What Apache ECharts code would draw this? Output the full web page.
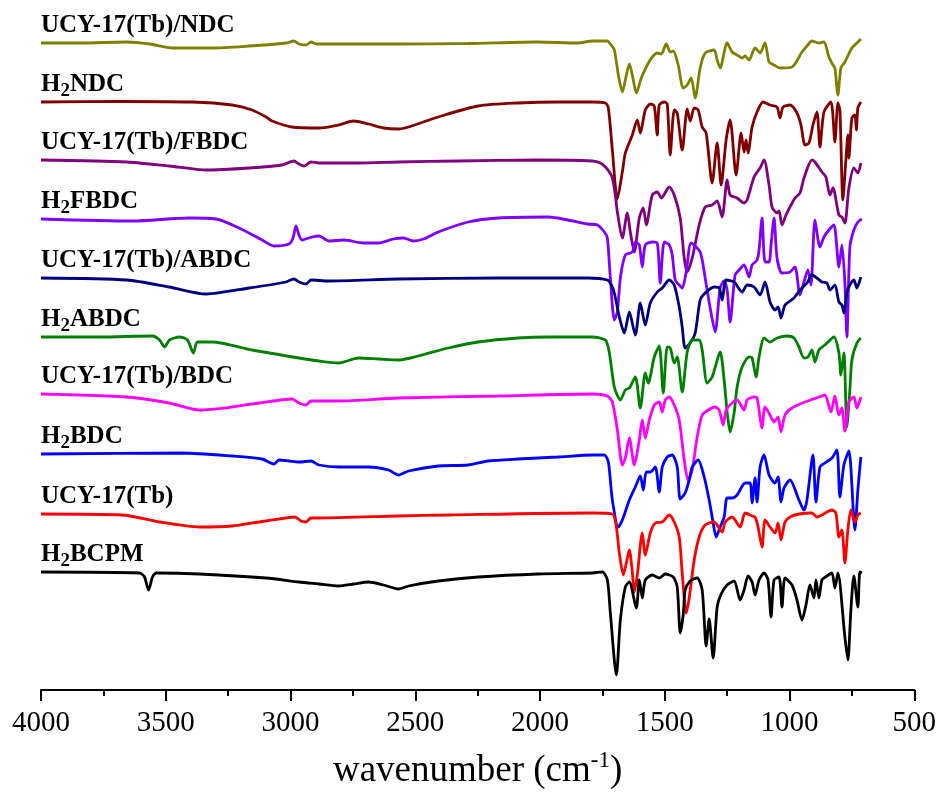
<!DOCTYPE html>
<html><head><meta charset="utf-8">
<script src="https://cdn.jsdelivr.net/npm/echarts@6/dist/echarts.min.js"></script>
<style>html,body{margin:0;padding:0;background:#fff}#c{width:939px;height:807px}</style>
</head><body><div id="c"></div>
<script>
// x axis ticks (wavenumber, cm-1)
const xTicks = [4000, 3500, 3000, 2500, 2000, 1500, 1000, 500];
const labels = ['UCY-17(Tb)/NDC', 'H2NDC', 'UCY-17(Tb)/FBDC', 'H2FBDC', 'UCY-17(Tb)/ABDC', 'H2ABDC', 'UCY-17(Tb)/BDC', 'H2BDC', 'UCY-17(Tb)', 'H2BCPM'];
const colors = ['#808000', '#800000', '#800080', '#8000FF', '#000080', '#008000', '#FF00FF', '#0000FF', '#FF0000', '#000000'];

// spectra: [wavenumber, transmittance (offset, a.u.)]
const ndcTb = [[4000,647],[3844,647],[3657,648],[3565,646],[3473,642],[3314,642],[3166,644],[3018,647],[2986,649],[2966,646],[2938,645],[2918,648],[2894,646],[2807,646],[2567,646],[2288,646.5],[2008,648],[1849,647],[1790,649],[1730,649],[1718,646],[1702,640],[1686,615],[1670,598],[1658,610],[1642,626],[1626,610],[1614,597],[1594,612],[1570,625],[1550,633],[1530,637],[1514,636],[1494,646],[1478,638],[1466,639],[1446,625],[1426,602],[1410,605],[1394,612],[1378,592],[1358,622],[1338,637],[1302,640],[1290,630],[1278,622],[1250,647],[1230,638],[1210,635],[1190,632],[1178,634],[1162,630],[1138,642],[1118,637],[1098,647],[1082,628],[1062,625],[1038,622],[990,623],[950,638],[930,644],[910,649],[882,647],[862,648],[842,633],[826,625],[818,622],[806,595],[794,622],[778,628],[750,642],[730,647],[714,651]];
const h2ndc = [[4000,588],[3685,588.5],[3393,588],[3234,585],[3154,580],[3098,573],[3074,569],[2994,563],[2886,562],[2807,565],[2747,569],[2687,566],[2627,562],[2567,561],[2527,563],[2408,573],[2248,584],[2088,587],[1929,588],[1790,588],[1738,587],[1726,582],[1710,540],[1690,491],[1670,518],[1658,537],[1630,555],[1610,570],[1598,557],[1578,580],[1558,586],[1542,584],[1530,555],[1522,585],[1502,588],[1490,586],[1478,535],[1462,580],[1450,577],[1430,540],[1410,581],[1398,569],[1382,582],[1366,580],[1350,563],[1334,557],[1310,507],[1290,547],[1274,505],[1254,550],[1238,570],[1214,515],[1194,557],[1182,538],[1174,550],[1166,537],[1150,563],[1130,578],[1106,588],[1078,585],[1050,583],[1038,572],[1026,583],[998,585],[970,577],[954,565],[938,545],[922,547],[906,565],[890,578],[878,543],[862,578],[834,588],[818,548],[806,587],[798,580],[786,490],[774,530],[766,555],[762,532],[750,572],[738,575],[732,560],[726,582],[714,588]];
const fbdcTb = [[4000,530],[3657,528],[3486,524],[3338,520],[3166,522],[3034,525],[2986,529],[2966,526],[2946,524],[2918,528],[2886,527],[2727,527],[2567,528],[2328,529],[2008,530],[1790,529],[1758,527],[1738,523],[1722,518],[1710,512],[1698,495],[1690,478],[1670,452],[1650,477],[1638,458],[1622,438],[1602,472],[1586,482],[1574,465],[1550,495],[1530,498],[1514,492],[1482,503],[1462,495],[1438,472],[1422,432],[1410,418],[1390,432],[1362,465],[1338,483],[1310,485],[1290,489],[1270,473],[1250,510],[1238,495],[1210,492],[1182,487],[1170,490],[1142,513],[1118,522],[1102,530],[1082,505],[1070,483],[1050,477],[1042,479],[1030,465],[1014,475],[978,492],[958,497],[942,512],[910,530],[898,528],[870,518],[854,513],[838,495],[826,502],[802,475],[790,473],[778,467],[762,502],[742,522],[726,517],[714,527]];
const h2fbdc = [[4000,471],[3633,469],[3405,472],[3298,471],[3206,462],[3114,450],[3066,444],[3006,446],[2990,452],[2978,464],[2966,455],[2954,450],[2914,453],[2886,454],[2847,449],[2787,450],[2707,447],[2647,447],[2587,451],[2547,452],[2507,449],[2467,451],[2408,458],[2288,468],[2168,472],[1969,473],[1810,466],[1770,465],[1742,458],[1730,452],[1718,412],[1702,370],[1690,378],[1678,412],[1658,435],[1630,438],[1618,448],[1602,445],[1590,423],[1578,445],[1550,448],[1530,447],[1518,407],[1502,448],[1482,445],[1470,435],[1458,410],[1442,405],[1430,402],[1414,418],[1394,447],[1358,438],[1338,412],[1318,382],[1298,358],[1278,402],[1262,409],[1250,400],[1238,368],[1218,415],[1202,420],[1182,425],[1162,413],[1150,425],[1130,430],[1122,440],[1110,472],[1098,428],[1082,428],[1074,445],[1062,472],[1050,432],[1030,417],[998,418],[978,423],[958,395],[942,408],[926,420],[914,405],[898,470],[878,443],[862,453],[842,460],[822,465],[802,423],[790,445],[778,407],[770,353],[758,443],[742,460],[726,468],[710,471]];
const abdcTb = [[4000,412],[3657,410],[3486,403],[3338,396],[3166,402],[3018,408],[2986,411],[2966,408],[2938,406],[2918,410],[2847,409],[2567,411],[2168,412],[1810,412],[1730,410],[1714,405],[1702,397],[1682,373],[1662,357],[1642,378],[1618,355],[1598,387],[1578,365],[1558,387],[1530,398],[1510,402],[1482,410],[1462,405],[1442,383],[1430,363],[1418,342],[1398,347],[1378,357],[1358,390],[1338,397],[1302,403],[1282,402],[1270,390],[1254,410],[1222,408],[1190,398],[1170,405],[1142,403],[1118,395],[1098,408],[1078,388],[1058,380],[1046,383],[1034,372],[1018,385],[982,392],[958,400],[930,407],[910,415],[890,412],[870,408],[850,407],[838,400],[818,405],[802,388],[790,385],[782,377],[770,398],[758,405],[742,410],[730,402],[714,413]];
const h2abdc = [[4000,353],[3765,353],[3553,354],[3525,350],[3505,343],[3485,350],[3445,353],[3413,350],[3389,337],[3373,348],[3314,348],[3154,340],[2966,332],[2886,329],[2807,327],[2727,332],[2647,331],[2567,330],[2488,334],[2368,342],[2248,348],[2088,352],[1969,353],[1790,353],[1738,350],[1722,337],[1702,303],[1678,290],[1658,300],[1642,302],[1618,313],[1598,282],[1578,317],[1566,307],[1542,333],[1522,344],[1506,297],[1490,343],[1478,342],[1462,327],[1450,333],[1430,298],[1410,338],[1390,350],[1362,350],[1350,340],[1330,307],[1310,313],[1278,338],[1262,310],[1250,278],[1238,258],[1222,277],[1210,303],[1190,323],[1162,333],[1150,332],[1134,313],[1122,333],[1102,352],[1078,348],[1050,352],[1010,354],[982,352],[962,343],[942,332],[926,333],[910,340],[898,328],[882,340],[858,345],[822,353],[802,337],[794,315],[782,337],[770,263],[758,300],[750,330],[730,347],[714,352]];
const bdcTb = [[4000,296],[3657,293],[3486,287],[3365,280],[3234,283],[3126,287],[2994,291],[2966,287],[2938,285],[2918,289],[2886,289],[2807,289],[2567,292],[2168,294],[1790,296],[1730,294],[1710,288],[1690,260],[1670,225],[1658,232],[1642,252],[1622,225],[1602,250],[1590,270],[1578,252],[1562,270],[1542,285],[1522,288],[1510,278],[1498,290],[1482,293],[1462,285],[1442,270],[1422,230],[1406,209],[1390,220],[1370,253],[1350,275],[1326,280],[1298,283],[1282,280],[1266,265],[1254,280],[1230,287],[1210,290],[1182,280],[1170,290],[1142,293],[1130,292],[1110,262],[1098,283],[1078,275],[1062,268],[1046,273],[1034,258],[1018,275],[990,282],[938,288],[882,293],[858,295],[834,278],[818,294],[802,275],[790,282],[778,259],[762,288],[742,293],[730,282],[714,293]];
const h2bdc = [[4000,236],[3434,237],[3234,234],[3114,231],[3066,226],[3046,230],[3006,229],[2966,228],[2918,229],[2886,225],[2807,223],[2687,223],[2607,220],[2567,215],[2527,219],[2408,224],[2288,225],[2208,229],[2088,231],[1929,233],[1790,235],[1742,235],[1726,228],[1710,190],[1686,163],[1670,170],[1642,190],[1618,203],[1598,214],[1586,200],[1574,218],[1558,218],[1538,223],[1522,198],[1510,223],[1490,233],[1470,235],[1450,223],[1438,191],[1418,197],[1402,210],[1390,223],[1366,230],[1342,213],[1322,190],[1306,167],[1294,153],[1278,163],[1262,173],[1250,192],[1230,192],[1210,195],[1178,207],[1158,207],[1150,187],[1138,212],[1130,188],[1118,223],[1102,235],[1082,215],[1058,207],[1046,213],[1034,188],[1022,202],[998,210],[962,190],[942,180],[930,190],[906,235],[894,188],[878,223],[858,227],[830,232],[810,240],[798,193],[782,225],[762,239],[738,160],[726,200],[714,233]];
const ucyTb = [[4000,176],[3673,175],[3525,168],[3365,163],[3234,164],[3126,168],[3018,172],[2982,173],[2958,169],[2938,168],[2918,172],[2886,172],[2567,174],[2368,175],[1790,177],[1710,176],[1694,163],[1682,137],[1666,115],[1654,127],[1642,140],[1630,118],[1622,98],[1610,115],[1590,157],[1578,135],[1558,157],[1538,167],[1510,168],[1482,175],[1462,168],[1442,153],[1430,117],[1414,77],[1402,92],[1382,130],[1362,153],[1338,165],[1302,168],[1270,158],[1258,168],[1230,173],[1198,163],[1178,177],[1150,174],[1138,173],[1126,163],[1110,143],[1098,170],[1078,163],[1058,157],[1046,167],[1034,150],[1018,168],[998,173],[962,176],[910,177],[890,173],[870,175],[850,178],[830,180],[814,177],[802,153],[790,160],[778,127],[766,160],[754,180],[738,168],[726,175],[714,177]];
const h2bcpm = [[4000,118],[3605,117],[3585,113],[3569,100],[3553,113],[3537,117],[3365,116],[3098,112],[2966,108],[2886,106],[2807,104],[2747,106],[2687,108],[2627,105],[2567,101],[2527,104],[2408,109],[2248,113],[2008,116],[1790,117],[1750,118],[1730,110],[1718,77],[1694,15],[1678,70],[1658,103],[1642,108],[1614,82],[1602,110],[1590,92],[1578,110],[1550,115],[1522,112],[1498,116],[1466,113],[1450,103],[1438,57],[1426,75],[1418,100],[1398,109],[1370,112],[1350,100],[1334,44],[1322,71],[1306,32],[1290,83],[1274,96],[1250,105],[1222,109],[1198,90],[1182,100],[1166,114],[1150,108],[1138,95],[1122,110],[1102,117],[1086,110],[1074,73],[1062,110],[1042,113],[1030,83],[1018,112],[990,105],[970,90],[950,70],[934,85],[918,105],[902,92],[894,110],[882,92],[870,110],[850,114],[830,117],[818,102],[806,117],[778,53],[766,30],[754,80],[742,114],[726,83],[718,118],[710,117]];

const spectra = [ndcTb, h2ndc, fbdcTb, h2fbdc, abdcTb, h2abdc, bdcTb, h2bdc, ucyTb, h2bcpm];
const SERIF = "'Liberation Serif', 'Times New Roman', serif";

const chart = echarts.init(document.getElementById('c'), null, {renderer: 'canvas'});
chart.setOption({
  animation: false,
  backgroundColor: '#ffffff',
  grid: {left: 41, right: 21, top: 20, bottom: 117},
  xAxis: {
    type: 'value', inverse: true, min: 500, max: 4000, interval: 500,
    axisLine: {show: true, onZero: false, lineStyle: {color: '#000', width: 2}},
    axisTick: {show: true, inside: false, length: 11, lineStyle: {color: '#000', width: 2}},
    minorTick: {show: true, splitNumber: 2, length: 6, lineStyle: {color: '#000', width: 2}},
    splitLine: {show: false},
    axisLabel: {color: '#000', fontFamily: SERIF, fontSize: 29, margin: 19, showMinLabel: true, showMaxLabel: true,
      formatter: v => xTicks.includes(v) ? String(v) : ''},
    name: 'wavenumber (cm{sup|-1})', nameLocation: 'middle', nameGap: 59,
    nameTextStyle: {color: '#000', fontFamily: SERIF, fontSize: 37, lineHeight: 44,
      rich: {sup: {fontFamily: SERIF, fontSize: 23, lineHeight: 22, verticalAlign: 'top', color: '#000'}}}
  },
  yAxis: {type: 'value', min: 0, max: 670, show: false},
  series: spectra.map((d, i) => ({
    type: 'line', name: labels[i], data: d, symbol: 'none', showSymbol: false, smooth: 0.25, silent: true,
    lineStyle: {color: colors[i], width: 2.8}, itemStyle: {color: colors[i]}
  }))
});

function richLabel(s) {
  const m = s.match(/^H2(.*)$/);
  return m ? '{b|H}{s|2}{b|' + m[1] + '}' : '{b|' + s + '}';
}
const graphics = labels.map((lab, i) => {
  const p = chart.convertToPixel({gridIndex: 0}, [4000, spectra[i][0][1]]);
  return {
    type: 'text', x: p[0], y: p[1] - 1, silent: true,
    style: {
      text: richLabel(lab), align: 'left', verticalAlign: 'bottom', fill: '#000',
      rich: {
        b: {fontFamily: SERIF, fontWeight: 'bold', fontSize: 25, lineHeight: 32, color: '#000'},
        s: {fontFamily: SERIF, fontWeight: 'bold', fontSize: 19, lineHeight: 19, verticalAlign: 'bottom', color: '#000'}
      }
    }
  };
});
chart.setOption({graphic: graphics});
</script></body></html>
